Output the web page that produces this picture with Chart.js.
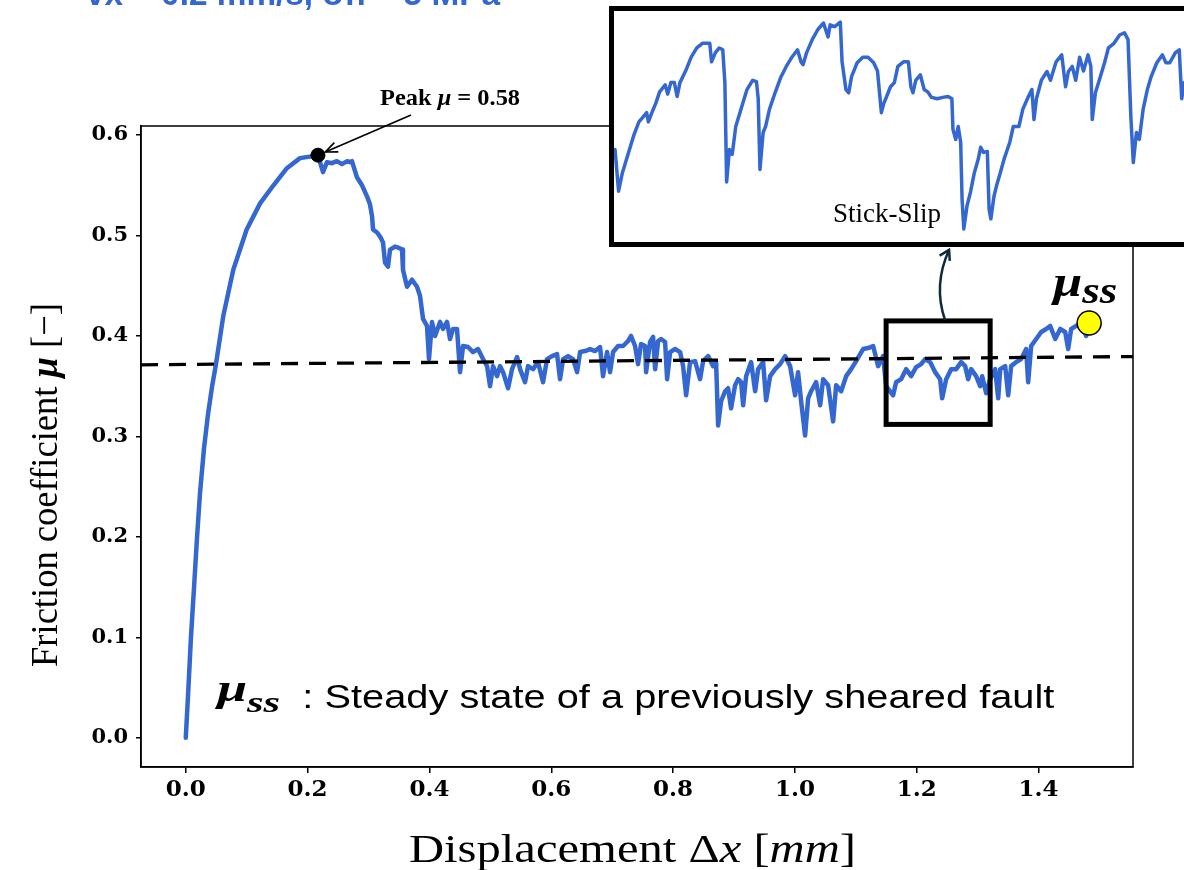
<!DOCTYPE html>
<html>
<head>
<meta charset="utf-8">
<script src="https://cdn.jsdelivr.net/npm/chart.js@4.4.1/dist/chart.umd.min.js"></script>
<style>
  html, body { margin: 0; padding: 0; background: #fff; overflow: hidden; }
  #wrap { position: relative; width: 1184px; height: 870px; overflow: hidden; }
  #main { position: absolute; left: 0; top: 0; }
  #inset { position: absolute; left: 609px; top: 6px; width: 600px; height: 231px;
           border: 5px solid #000; background: #fff; }
  #inset canvas { display: block; }
</style>
</head>
<body>
<div id="wrap">
  <canvas id="main" width="1184" height="870"></canvas>
  <div id="inset"><canvas id="zoomed" width="600" height="231"></canvas></div>
</div>
<script>
// displacement [mm] and friction coefficient of the full run
const distX = [0, 0.0036, 0.0085, 0.0135, 0.0184, 0.0233, 0.0299, 0.0365, 0.0430, 0.0496,
  0.0616, 0.0780, 0.1000, 0.1220, 0.1440, 0.1660, 0.1875, 0.2090, 0.2170, 0.2253,
  0.2318, 0.2400, 0.2480, 0.2565, 0.2650, 0.2696, 0.2728, 0.2810, 0.2893, 0.2975,
  0.3024, 0.3058, 0.3074, 0.3140, 0.3190, 0.3238, 0.3271, 0.3320, 0.3353, 0.3435,
  0.3484, 0.3550, 0.3566, 0.3632, 0.3714, 0.3796, 0.3845, 0.3895, 0.3960, 0.3993,
  0.4042, 0.4092, 0.4174, 0.4223, 0.4289, 0.4338, 0.4387, 0.4453, 0.4502, 0.4552,
  0.4634, 0.4716, 0.4798, 0.4880, 0.4946, 0.4995, 0.5044, 0.5110, 0.5159, 0.5209,
  0.5291, 0.5356, 0.5439, 0.5488, 0.5570, 0.5619, 0.5701, 0.5783, 0.5865, 0.5931,
  0.6013, 0.6095, 0.6144, 0.6194, 0.6276, 0.6358, 0.6424, 0.6473, 0.6555, 0.6637,
  0.6719, 0.6801, 0.6850, 0.6916, 0.6965, 0.7015, 0.7097, 0.7179, 0.7261, 0.7310,
  0.7376, 0.7425, 0.7474, 0.7540, 0.7557, 0.7622, 0.7672, 0.7705, 0.7754, 0.7803,
  0.7869, 0.7902, 0.7951, 0.8033, 0.8115, 0.8164, 0.8214, 0.8279, 0.8361, 0.8443,
  0.8493, 0.8575, 0.8657, 0.8706, 0.8739, 0.8788, 0.8854, 0.8903, 0.8952, 0.9018,
  0.9068, 0.9117, 0.9150, 0.9199, 0.9281, 0.9347, 0.9396, 0.9478, 0.9527, 0.9593,
  0.9675, 0.9757, 0.9839, 0.9921, 1.0003, 1.0052, 1.0102, 1.0167, 1.0217, 1.0266,
  1.0348, 1.0414, 1.0463, 1.0545, 1.0627, 1.0677, 1.0759, 1.0841, 1.0923, 1.1005,
  1.1070, 1.1120, 1.1202, 1.1284, 1.1366, 1.1448, 1.1497, 1.1612, 1.1661, 1.1743,
  1.1826, 1.1908, 1.1990, 1.2072, 1.2138, 1.2220, 1.2302, 1.2384, 1.2417, 1.2483,
  1.2565, 1.2647, 1.2729, 1.2795, 1.2844, 1.2893, 1.2975, 1.3041, 1.3074, 1.3140,
  1.3205, 1.3287, 1.3337, 1.3370, 1.3452, 1.3501, 1.3550, 1.3632, 1.3714, 1.3796,
  1.3829, 1.3878, 1.3961, 1.4043, 1.4125, 1.4190, 1.4273, 1.4355, 1.4437, 1.4486,
  1.4535, 1.4617, 1.4699, 1.4781, 1.4830];
const muY = [0.000, 0.041, 0.100, 0.149, 0.199, 0.243, 0.288, 0.322, 0.349, 0.372,
  0.420, 0.466, 0.506, 0.532, 0.550, 0.567, 0.577, 0.579, 0.580, 0.563,
  0.573, 0.572, 0.574, 0.571, 0.574, 0.573, 0.574, 0.558, 0.550, 0.539,
  0.531, 0.519, 0.506, 0.503, 0.499, 0.493, 0.473, 0.469, 0.486, 0.489,
  0.488, 0.486, 0.466, 0.449, 0.456, 0.449, 0.440, 0.417, 0.410, 0.377,
  0.414, 0.400, 0.414, 0.407, 0.414, 0.397, 0.407, 0.407, 0.364, 0.390,
  0.389, 0.384, 0.387, 0.377, 0.370, 0.350, 0.370, 0.360, 0.370, 0.364,
  0.348, 0.367, 0.379, 0.367, 0.354, 0.370, 0.367, 0.374, 0.354, 0.377,
  0.380, 0.382, 0.357, 0.377, 0.380, 0.377, 0.364, 0.384, 0.385, 0.387,
  0.385, 0.389, 0.360, 0.384, 0.364, 0.384, 0.390, 0.390, 0.395, 0.400,
  0.390, 0.372, 0.392, 0.390, 0.364, 0.394, 0.399, 0.367, 0.395, 0.397,
  0.394, 0.357, 0.384, 0.387, 0.384, 0.370, 0.341, 0.374, 0.375, 0.357,
  0.375, 0.380, 0.370, 0.374, 0.311, 0.335, 0.345, 0.348, 0.328, 0.351,
  0.357, 0.354, 0.331, 0.360, 0.374, 0.345, 0.367, 0.374, 0.336, 0.360,
  0.367, 0.372, 0.380, 0.370, 0.341, 0.364, 0.335, 0.301, 0.338, 0.345,
  0.354, 0.331, 0.357, 0.351, 0.315, 0.351, 0.345, 0.360, 0.367, 0.375,
  0.382, 0.387, 0.388, 0.390, 0.370, 0.380, 0.350, 0.341, 0.354, 0.357,
  0.367, 0.360, 0.369, 0.372, 0.377, 0.374, 0.364, 0.357, 0.338, 0.357,
  0.367, 0.367, 0.374, 0.370, 0.357, 0.367, 0.360, 0.350, 0.360, 0.343,
  0.357, 0.367, 0.338, 0.367, 0.370, 0.341, 0.370, 0.374, 0.377, 0.387,
  0.354, 0.390, 0.397, 0.404, 0.407, 0.410, 0.397, 0.407, 0.404, 0.387,
  0.407, 0.410, 0.414, 0.400, 0.413];

// linear fit of the steady part, drawn across the whole x range
const fitX = [-0.0735, 1.555];
const fitY = [0.3713, 0.3795];

// close-up of the stick-slip window (1.15 - 1.32 mm)
const insetX = [1.1503, 1.1513, 1.1524, 1.1540, 1.1556, 1.1571, 1.1582, 1.1593, 1.1598, 1.1608,
  1.1619, 1.1630, 1.1646, 1.1653, 1.1662, 1.1672, 1.1680, 1.1688, 1.1704, 1.1720,
  1.1736, 1.1752, 1.1773, 1.1778, 1.1789, 1.1800, 1.1810, 1.1816, 1.1821, 1.1829,
  1.1837, 1.1847, 1.1863, 1.1879, 1.1895, 1.1906, 1.1911, 1.1916, 1.1925, 1.1932,
  1.1943, 1.1959, 1.1975, 1.1991, 1.2007, 1.2023, 1.2033, 1.2039, 1.2049, 1.2065,
  1.2081, 1.2097, 1.2110, 1.2116, 1.2129, 1.2145, 1.2150, 1.2161, 1.2169, 1.2177,
  1.2193, 1.2209, 1.2224, 1.2240, 1.2251, 1.2262, 1.2269, 1.2277, 1.2288, 1.2299,
  1.2309, 1.2325, 1.2339, 1.2346, 1.2352, 1.2360, 1.2373, 1.2384, 1.2394, 1.2405,
  1.2421, 1.2437, 1.2452, 1.2463, 1.2466, 1.2474, 1.2481, 1.2488, 1.2492, 1.2497,
  1.2506, 1.2516, 1.2527, 1.2538, 1.2545, 1.2553, 1.2564, 1.2569, 1.2574, 1.2583,
  1.2590, 1.2601, 1.2612, 1.2628, 1.2638, 1.2654, 1.2665, 1.2681, 1.2691, 1.2697,
  1.2704, 1.2718, 1.2734, 1.2744, 1.2760, 1.2776, 1.2787, 1.2795, 1.2806, 1.2816,
  1.2827, 1.2838, 1.2851, 1.2859, 1.2863, 1.2872, 1.2883, 1.2898, 1.2909, 1.2925,
  1.2941, 1.2955, 1.2965, 1.2973, 1.2980, 1.2989, 1.2997, 1.3008, 1.3020, 1.3031,
  1.3047, 1.3063, 1.3073, 1.3084, 1.3100, 1.3111, 1.3118, 1.3125];
const insetY = [0.3600, 0.3510, 0.3550, 0.3590, 0.3630, 0.3660, 0.3670, 0.3680, 0.3660, 0.3680,
  0.3700, 0.3725, 0.3740, 0.3720, 0.3745, 0.3745, 0.3715, 0.3745, 0.3770, 0.3800,
  0.3820, 0.3830, 0.3830, 0.3790, 0.3810, 0.3820, 0.3816, 0.3745, 0.3530, 0.3600,
  0.3590, 0.3650, 0.3690, 0.3730, 0.3750, 0.3747, 0.3710, 0.3557, 0.3637, 0.3650,
  0.3687, 0.3723, 0.3756, 0.3780, 0.3800, 0.3816, 0.3790, 0.3784, 0.3810, 0.3838,
  0.3860, 0.3874, 0.3844, 0.3870, 0.3866, 0.3876, 0.3790, 0.3730, 0.3723, 0.3758,
  0.3788, 0.3800, 0.3800, 0.3788, 0.3770, 0.3680, 0.3700, 0.3715, 0.3736, 0.3745,
  0.3780, 0.3790, 0.3790, 0.3736, 0.3723, 0.3750, 0.3762, 0.3730, 0.3725, 0.3713,
  0.3710, 0.3713, 0.3715, 0.3710, 0.3644, 0.3622, 0.3650, 0.3616, 0.3493, 0.3428,
  0.3478, 0.3508, 0.3550, 0.3579, 0.3605, 0.3594, 0.3596, 0.3471, 0.3450, 0.3499,
  0.3521, 0.3550, 0.3580, 0.3616, 0.3650, 0.3650, 0.3687, 0.3715, 0.3730, 0.3665,
  0.3710, 0.3750, 0.3769, 0.3750, 0.3790, 0.3805, 0.3736, 0.3769, 0.3780, 0.3750,
  0.3800, 0.3770, 0.3805, 0.3780, 0.3665, 0.3723, 0.3750, 0.3788, 0.3820, 0.3830,
  0.3848, 0.3853, 0.3838, 0.3672, 0.3572, 0.3637, 0.3622, 0.3687, 0.3730, 0.3758,
  0.3788, 0.3805, 0.3788, 0.3788, 0.3810, 0.3816, 0.3710, 0.3745];

const xTicks = [0, 0.2, 0.4, 0.6, 0.8, 1.0, 1.2, 1.4];
const yTicks = [0, 0.1, 0.2, 0.3, 0.4, 0.5, 0.6];

// window that the inset magnifies
const zoomWin = { x0: 1.1497, x1: 1.3205, y0: 0.312, y1: 0.415 };

const BLUE = '#3467cf';
const SERIF = '"Liberation Serif", "DejaVu Serif", serif';
const SANS = '"Liberation Sans", Arial, sans-serif';

function pts(xs, ys) {
    return xs.map((x, i) => ({ x: x, y: ys[i] }));
}

// peak and the last (steady state) point
let peakIdx = 0;
muY.forEach((v, i) => { if (v > muY[peakIdx]) peakIdx = i; });
const peakX = distX[peakIdx], peakY = muY[peakIdx];
const ssX = distX[distX.length - 1], ssY = muY[muY.length - 1];

// draws a row of text pieces with mixed fonts, optionally squeezed to a given width
function drawRuns(ctx, runs, x, y, width, angle) {
    let total = 0;
    runs.forEach(r => {
        ctx.font = r.font;
        r.w = ctx.measureText(r.text).width;
        total += r.w;
    });
    ctx.save();
    ctx.translate(x, y);
    if (angle) ctx.rotate(angle);
    if (width) ctx.scale(width / total, 1);
    ctx.textAlign = 'left';
    ctx.textBaseline = 'alphabetic';
    let cx = 0;
    runs.forEach(r => {
        ctx.font = r.font;
        ctx.fillStyle = r.color || '#000';
        ctx.fillText(r.text, cx, r.dy || 0);
        cx += r.w;
    });
    ctx.restore();
}

function arrowHead(ctx, tipX, tipY, fromX, fromY, len, spread, filled) {
    const ang = Math.atan2(tipY - fromY, tipX - fromX);
    ctx.beginPath();
    ctx.moveTo(tipX - len * Math.cos(ang - spread), tipY - len * Math.sin(ang - spread));
    ctx.lineTo(tipX, tipY);
    ctx.lineTo(tipX - len * Math.cos(ang + spread), tipY - len * Math.sin(ang + spread));
    if (filled) { ctx.closePath(); ctx.fill(); } else { ctx.stroke(); }
}

const annotate = {
    id: 'annotate',
    afterDraw(chart) {
        const { ctx, chartArea: a, scales: { x, y } } = chart;
        ctx.save();

        // full box around the axes
        ctx.strokeStyle = '#000';
        ctx.lineWidth = 1.5;
        ctx.strokeRect(a.left, a.top, a.right - a.left, a.bottom - a.top);

        // magnified window
        const bx0 = x.getPixelForValue(zoomWin.x0), bx1 = x.getPixelForValue(zoomWin.x1);
        const by0 = y.getPixelForValue(zoomWin.y1), by1 = y.getPixelForValue(zoomWin.y0);
        ctx.lineWidth = 5;
        ctx.strokeRect(bx0, by0, bx1 - bx0, by1 - by0);

        // curved arrow up to the inset
        const sx = x.getPixelForValue(1.2464), sy = y.getPixelForValue(0.4159);
        const qx = x.getPixelForValue(1.2267), qy = y.getPixelForValue(0.4507);
        const ex = x.getPixelForValue(1.2530), ey = y.getPixelForValue(0.4856);
        ctx.strokeStyle = '#0e2b3d';
        ctx.fillStyle = '#0e2b3d';
        ctx.lineWidth = 2.5;
        ctx.beginPath();
        ctx.moveTo(sx, sy);
        ctx.quadraticCurveTo(qx, qy, ex, ey);
        ctx.stroke();
        arrowHead(ctx, ex, ey, qx + 4, qy - 12, 11, 0.55, false);

        // peak annotation
        const px = x.getPixelForValue(peakX), py = y.getPixelForValue(peakY);
        const tx = x.getPixelForValue(0.3698), ty = y.getPixelForValue(0.6199);
        const d = Math.hypot(tx - px, ty - py);
        const hx = px + (tx - px) * 8 / d, hy = py + (ty - py) * 8 / d;
        ctx.strokeStyle = '#000';
        ctx.lineWidth = 1.6;
        ctx.beginPath();
        ctx.moveTo(tx, ty);
        ctx.lineTo(hx, hy);
        ctx.stroke();
        arrowHead(ctx, hx, hy, tx, ty, 13, 0.4, false);
        drawRuns(ctx, [
            { text: 'Peak ', font: 'bold 24px ' + SERIF },
            { text: 'μ', font: 'italic bold 24px ' + SERIF },
            { text: ' = ' + peakY.toFixed(2), font: 'bold 24px ' + SERIF }
        ], x.getPixelForValue(0.3189), y.getPixelForValue(0.6299), 140);

        // steady state label
        drawRuns(ctx, [
            { text: 'μ', font: 'italic bold 44px ' + SERIF },
            { text: 'ss', font: 'italic bold 38px ' + SERIF, dy: 7 }
        ], x.getPixelForValue(1.424), y.getPixelForValue(0.4398), 64);

        drawRuns(ctx, [
            { text: 'μ', font: 'italic bold 38px ' + SERIF },
            { text: 'ss', font: 'italic bold 30px ' + SERIF, dy: 11 }
        ], x.getPixelForValue(0.0515), y.getPixelForValue(0.0366), 63);
        drawRuns(ctx, [
            { text: ': Steady state of a previously sheared fault', font: '34px ' + SANS }
        ], x.getPixelForValue(0.1914), y.getPixelForValue(0.0297), 752);

        // axis titles
        drawRuns(ctx, [
            { text: 'Friction coefficient ', font: '38px ' + SERIF },
            { text: 'μ', font: 'italic bold 38px ' + SERIF },
            { text: ' [−]', font: '38px ' + SERIF }
        ], a.left - 84, 667, 364, -Math.PI / 2);
        drawRuns(ctx, [
            { text: 'Displacement Δ', font: '40px ' + SERIF },
            { text: 'x', font: 'italic 40px ' + SERIF },
            { text: ' [', font: '40px ' + SERIF },
            { text: 'mm', font: 'italic 40px ' + SERIF },
            { text: ']', font: '40px ' + SERIF }
        ], 409, 862, 447);

        // test conditions line above the figure
        drawRuns(ctx, [
            { text: 'vx = 0.2 mm/s, σn = 5 MPa', font: 'bold 34px ' + SANS, color: BLUE }
        ], 86, 5, 414);

        ctx.restore();
    }
};

const tickFont = { family: '"DejaVu Serif", serif', weight: 'bold' };

new Chart(document.getElementById('main'), {
    type: 'line',
    data: {
        datasets: [
            { data: pts(fitX, fitY), borderColor: '#000', borderWidth: 3.3, borderDash: [17, 11],
              pointRadius: 0, order: 1 },
            { data: pts(distX, muY), borderColor: BLUE, borderWidth: 4.5, pointRadius: 0,
              borderJoinStyle: 'round', borderCapStyle: 'round', order: 2 },
            { data: [{ x: peakX, y: peakY }], showLine: false, pointRadius: 7,
              pointBackgroundColor: '#000', pointBorderColor: '#000', order: 0 },
            { data: [{ x: ssX, y: ssY }], showLine: false, pointRadius: 12,
              pointBackgroundColor: '#ffff00', pointBorderColor: '#000', pointBorderWidth: 1.5, order: 0 }
        ]
    },
    options: {
        responsive: false,
        animation: false,
        devicePixelRatio: 1,
        layout: { padding: { top: 126, right: 51, left: 0, bottom: 0 } },
        plugins: { legend: { display: false }, tooltip: { enabled: false } },
        scales: {
            x: {
                type: 'linear', min: -0.0735, max: 1.555,
                afterBuildTicks: s => { s.ticks = xTicks.map(v => ({ value: v })); },
                afterFit: s => { s.height = 103; },
                ticks: { color: '#000', font: Object.assign({ size: 23 }, tickFont), padding: 3,
                         maxRotation: 0, autoSkip: false, callback: v => v.toFixed(1) },
                grid: { drawOnChartArea: false, drawTicks: true, tickLength: 6, color: '#000', lineWidth: 1.5 },
                border: { display: true, color: '#000', width: 1.5 }
            },
            y: {
                type: 'linear', min: -0.029, max: 0.609,
                afterBuildTicks: s => { s.ticks = yTicks.map(v => ({ value: v })); },
                afterFit: s => { s.width = 141; },
                ticks: { color: '#000', font: Object.assign({ size: 21 }, tickFont), padding: 8,
                         autoSkip: false, callback: v => v.toFixed(1) },
                grid: { drawOnChartArea: false, drawTicks: true, tickLength: 5, color: '#000', lineWidth: 1.5 },
                border: { display: true, color: '#000', width: 1.5 }
            }
        }
    },
    plugins: [annotate]
});

const stickSlipLabel = {
    id: 'stickSlipLabel',
    afterDraw(chart) {
        const ctx = chart.ctx;
        ctx.save();
        ctx.font = '27px ' + SERIF;
        ctx.fillStyle = '#000';
        ctx.textAlign = 'center';
        ctx.fillText('Stick-Slip', 273, 211);
        ctx.restore();
    }
};

new Chart(document.getElementById('zoomed'), {
    type: 'line',
    data: {
        datasets: [{ data: pts(insetX, insetY), borderColor: BLUE, borderWidth: 3.5, pointRadius: 0,
                     borderJoinStyle: 'round', borderCapStyle: 'round' }]
    },
    options: {
        responsive: false,
        animation: false,
        devicePixelRatio: 1,
        layout: { padding: 0 },
        plugins: { legend: { display: false }, tooltip: { enabled: false } },
        scales: {
            x: { type: 'linear', display: false, min: 1.15, max: 1.321 },
            y: { type: 'linear', display: false, min: 0.34, max: 0.39 }
        }
    },
    plugins: [stickSlipLabel]
});
</script>
</body>
</html>
